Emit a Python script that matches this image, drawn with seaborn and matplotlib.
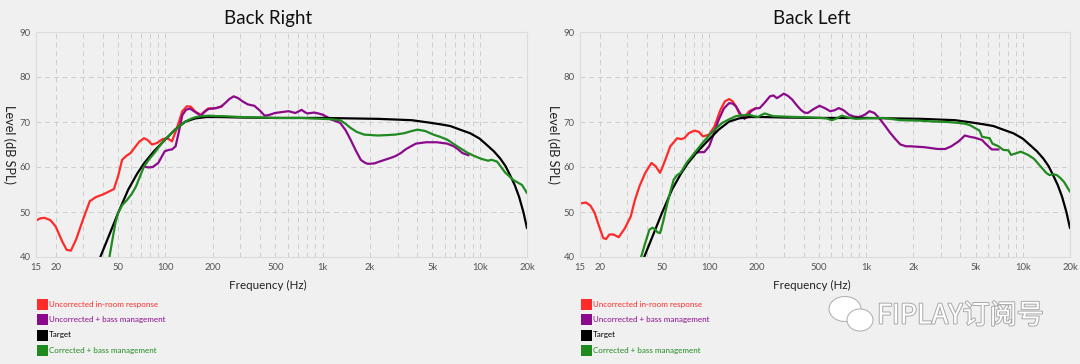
import numpy as np
import pandas as pd
import matplotlib
matplotlib.use("Agg")
import matplotlib.pyplot as plt
import matplotlib.ticker as ticker
import matplotlib.patheffects as pe
from matplotlib.patches import Rectangle, Ellipse
import seaborn as sns

# ---- data ----
# Back Right
br_red_f = [15, 16, 17, 18.5, 20, 22, 23.5, 25, 27, 30, 33, 36, 40, 44, 47, 50, 53, 57, 60, 64, 68, 73, 77,
            82, 88, 96, 103, 110, 118, 128, 137, 145, 155, 168, 178, 187, 198, 210, 230]
br_red_db = [48.1, 48.6, 48.7, 48.2, 46.8, 43.5, 41.6, 41.4, 43.9, 48.5, 52.4, 53.3, 53.9, 54.6, 55.1, 58.0, 61.6, 62.6, 63.1, 64.4, 65.6, 66.4, 66.0,
             65.0, 65.3, 66.2, 66.4, 65.7, 68.5, 72.4, 73.5, 73.4, 72.3, 71.6, 72.4, 73.0, 73.0, 73.1, 73.5]

br_purple_f = [73, 78, 83, 90, 99, 105, 110, 116, 122, 128, 135, 143, 155, 168, 178, 188, 200, 211, 225, 240, 255, 272, 290,
               309, 335, 368, 400, 428, 460, 497, 550, 607, 671, 700, 735, 770, 800, 840, 885, 940, 1006, 1070, 1142, 1210, 1295,
               1400, 1506, 1620, 1750, 1850, 1935, 2140, 2300, 2490, 2700, 2900, 3150, 3370, 3650, 3930, 4560, 5320, 6200, 6840, 7300, 7760, 8500]
br_purple_db = [60.1, 59.9, 60.0, 60.9, 63.5, 63.8, 63.9, 64.6, 68.0, 71.5, 72.7, 73.0, 72.2, 71.4, 72.3, 72.9, 73.0, 73.1, 73.4, 74.2, 75.1, 75.7, 75.3,
                74.6, 73.9, 73.6, 72.5, 71.4, 71.6, 72.0, 72.2, 72.4, 72.0, 72.3, 72.7, 72.2, 71.9, 72.0, 72.1, 71.9, 71.6, 71.1, 70.5, 70.2, 69.8,
                68.2, 66.1, 63.8, 61.6, 61.0, 60.7, 60.8, 61.2, 61.6, 62.0, 62.4, 63.1, 63.9, 64.6, 65.2, 65.5, 65.5, 65.2, 64.6, 63.9, 63.1, 62.6]

br_green_f = [44, 46, 48, 50, 53, 57, 61, 65, 69, 73, 79, 85, 92, 99, 107, 116, 125, 134, 145, 156, 170, 191, 210, 234, 265, 301,
              400, 497, 600, 740, 850, 1006, 1150, 1295, 1400, 1506, 1650, 1840, 2250, 2600, 2900, 3300, 3700, 4020, 4500, 5070,
              5600, 6200, 7190, 8330, 9300, 10260, 11300, 11900, 12900, 14500, 16400, 18600, 20000]
br_green_db = [40.0, 43.9, 47.5, 49.8, 51.5, 52.7, 54.0, 55.7, 58.0, 60.1, 61.8, 63.1, 64.7, 66.1, 67.2, 68.3, 69.3, 70.1, 70.7, 71.1, 71.3, 71.4, 71.3, 71.3, 71.2, 71.1,
               71.0, 70.9, 70.9, 70.9, 70.8, 70.7, 70.6, 70.4, 69.6, 68.7, 67.8, 67.2, 67.0, 67.1, 67.2, 67.5, 68.0, 68.3, 68.0, 67.2,
               66.7, 66.1, 64.6, 63.2, 62.4, 61.8, 61.4, 61.6, 61.2, 58.8, 57.1, 56.0, 54.2]

# Back Left
bl_red_f = [15, 16.4, 17.5, 18.6, 20, 21.1, 22, 23.1, 24.5, 26.5, 29, 31.6, 33.5, 35.9, 39, 42.8, 45.5, 48.6, 52, 56.5,
            62.5, 66, 69.4, 74, 80.6, 86, 91.2, 100, 108, 118, 126, 134, 141, 148, 156, 163, 172, 180, 199]
bl_red_db = [51.9, 52.1, 51.4, 49.8, 46.5, 44.2, 44.0, 45.0, 45.0, 44.4, 46.4, 49.0, 52.5, 55.7, 58.6, 60.9, 60.2, 58.7, 61.2, 64.6,
             66.4, 66.2, 66.4, 67.5, 68.1, 67.8, 66.8, 67.2, 69.0, 72.7, 74.6, 75.1, 74.6, 73.5, 71.8, 70.9, 71.6, 72.4, 73.1]

bl_purple_f = [80.6, 86.6, 93, 100, 107, 115, 124, 134, 141, 148, 158, 168, 176, 185, 197, 210, 226, 244, 257, 270, 285, 299, 318,
               338, 360, 384, 405, 425, 465, 505, 545, 591, 630, 670, 720, 780, 840, 906, 980, 1054, 1130, 1225, 1320, 1425,
               1540, 1657, 1800, 1928, 2354, 2870, 3200, 3500, 3900, 4270, 4600, 4950, 5500, 5740, 6340, 7000]
bl_purple_db = [63.1, 63.3, 63.3, 64.6, 67.4, 70.5, 73.0, 74.2, 74.1, 73.5, 71.8, 70.7, 71.4, 72.4, 73.0, 73.1, 74.3, 75.7, 75.9, 75.3, 75.8, 76.3, 75.8,
                75.0, 73.8, 72.7, 72.1, 72.0, 72.9, 73.6, 73.1, 72.4, 72.6, 73.1, 72.6, 71.6, 71.2, 71.1, 71.6, 72.4, 72.0, 70.7, 69.2, 67.6,
                66.2, 65.0, 64.6, 64.6, 64.4, 64.0, 64.0, 64.6, 65.7, 67.0, 66.7, 66.5, 66.0, 65.3, 63.9, 63.9]

bl_green_f = [36.8, 39, 41.6, 43.5, 45, 46.8, 48.6, 51, 53.6, 56.5, 59.4, 62.5, 65.7, 72, 80.6, 89, 98.4, 109, 121, 134, 148, 164, 180,
              193, 205, 216, 226, 240, 256, 300, 367, 440, 520, 560, 605, 650, 700, 770, 862, 1000, 1300, 1657, 2200, 2720,
              3300, 3900, 4300, 4600, 5290, 5500, 6150, 6400, 7000, 7500, 8100, 8400, 8990, 9700, 10800, 11800, 12780, 14100,
              14800, 15600, 16500, 17300, 18300, 20000]
bl_green_db = [40.0, 43.0, 46.1, 46.5, 46.2, 45.5, 45.3, 48.0, 51.3, 54.5, 57.2, 58.2, 58.7, 61.0, 63.1, 65.0, 66.8, 68.4, 69.8, 70.6, 71.3, 71.5, 71.6,
               71.3, 71.1, 71.6, 71.9, 71.6, 71.3, 71.2, 71.1, 71.0, 70.9, 70.8, 70.4, 70.8, 71.4, 71.0, 70.7, 70.8, 70.9, 70.4, 70.3, 70.1,
               70.0, 69.8, 69.6, 69.3, 68.1, 66.7, 66.4, 65.2, 64.6, 63.8, 63.7, 62.7, 63.0, 63.4, 62.7, 61.8, 60.4, 58.7,
               58.2, 58.4, 58.2, 57.6, 56.7, 54.5]

# Target (same curve on both panels)
target_f = [38.5, 44, 50, 58, 66, 73, 84, 99, 115, 134, 155, 182, 220, 300, 500, 1000, 2250, 3700, 4700, 5600, 6500,
            7500, 8700, 10000, 11100, 12300, 13500, 14600, 15600, 16700, 17800, 19000, 20000]
target_db = [40.0, 45.0, 49.8, 55.0, 58.5, 60.8, 63.4, 66.0, 68.3, 70.1, 70.8, 71.1, 71.1, 71.0, 70.9, 70.9, 70.7, 70.4, 69.9, 69.5, 69.1,
             68.3, 67.5, 66.3, 64.9, 63.5, 61.9, 60.2, 58.2, 56.0, 53.4, 49.9, 46.4]

x_ticks = [15, 20, 50, 100, 200, 500, 1000, 2000, 5000, 10000, 20000]
x_ticklabels = ["15", "20", "50", "100", "200", "500", "1k", "2k", "5k", "10k", "20k"]
y_ticks = [40, 50, 60, 70, 80, 90]

legend_labels = ["Uncorrected in-room response", "Uncorrected + bass management",
                 "Target", "Corrected + bass management"]
colors = ["#ff2a2a", "#8b0a8b", "#000000", "#1f8a1f"]

panels = {
    "Back Right": [(br_red_f, br_red_db), (br_purple_f, br_purple_db), (target_f, target_db), (br_green_f, br_green_db)],
    "Back Left": [(bl_red_f, bl_red_db), (bl_purple_f, bl_purple_db), (target_f, target_db), (bl_green_f, bl_green_db)],
}

# ---- style ----
sns.set_theme(style="white")
plt.rcParams["font.family"] = ["Lato", "DejaVu Sans"]
bg = "#f0f0f0"

fig = plt.figure(figsize=(10.8, 3.64), dpi=100, facecolor=bg)
# axes in pixels: left panel x 36..527, right panel x 580..1070, y 32..257
ax_rects = [[36 / 1080, 1 - 257 / 364, 491 / 1080, 225 / 364],
            [580 / 1080, 1 - 257 / 364, 490 / 1080, 225 / 364]]

for (title, series), rect in zip(panels.items(), ax_rects):
    ax = fig.add_axes(rect)
    ax.set_facecolor(bg)
    for (f, db), c, lab in zip(series, colors, legend_labels):
        df = pd.DataFrame({"freq": f, "level": db})
        sns.lineplot(data=df, x="freq", y="level", ax=ax, color=c, lw=1.6, label=lab, legend=False)
    ax.set_xscale("log")
    ax.set_xlim(15, 20000)
    ax.set_ylim(40, 90)
    ax.set_xticks(x_ticks)
    ax.set_xticklabels(x_ticklabels)
    ax.xaxis.set_minor_locator(ticker.LogLocator(base=10, subs=np.arange(2, 10)))
    ax.xaxis.set_minor_formatter(ticker.NullFormatter())
    ax.set_yticks(y_ticks)
    ax.tick_params(axis="both", which="both", length=0, labelsize=6.8, colors="#555555", pad=4)
    ax.grid(True, which="both", axis="x", color="#cdcdcd", ls=(0, (5, 4)), lw=0.7)
    ax.grid(True, which="major", axis="y", color="#cdcdcd", ls=(0, (5, 4)), lw=0.7)
    for s in ax.spines.values():
        s.set_color("#dcdcdc")
        s.set_linewidth(0.8)
    ax.set_title(title, fontsize=13.5, pad=6, color="#111111", x=0.473)
    ax.set_xlabel("Frequency (Hz)", fontsize=8.4, color="#222222", labelpad=5)
    ax.xaxis.set_label_coords(0.473, -0.1)
    ax.set_ylabel("Level (dB SPL)", fontsize=9.2, color="#222222", rotation=-90, va="center", ha="center")
    ax.yaxis.set_label_coords(-0.054, 0.5)

    # legend as coloured squares with coloured text below the axes
    x0 = rect[0] + 0.0005
    for i, (lab, c) in enumerate(zip(legend_labels, colors)):
        yc = 1 - (304 + 15.5 * i) / 364
        fig.patches.append(Rectangle((x0, yc - 5.5 / 364), 11 / 1080, 11 / 364,
                                     transform=fig.transFigure, facecolor=c, edgecolor="none"))
        fig.text(x0 + 12 / 1080, yc, lab, fontsize=5.8, color=c, va="center", ha="left")

# watermark
for (cx, cy, w, h) in [(845, 309, 32, 25), (860, 320, 26, 22)]:
    fig.patches.append(Ellipse((cx / 1080, 1 - cy / 364), w / 1080, h / 364, transform=fig.transFigure,
                               facecolor="white", edgecolor="#b4b4b4", lw=0.8))
fig.text(877 / 1080, 1 - 316 / 364, "FIPLAY订阅号", fontsize=19.5, color="white",
         family=["Noto Sans CJK SC", "DejaVu Sans"], va="center", ha="left",
         path_effects=[pe.withStroke(linewidth=1.4, foreground="#a8a8a8")])

fig.savefig("out.png", dpi=100, facecolor=bg)
